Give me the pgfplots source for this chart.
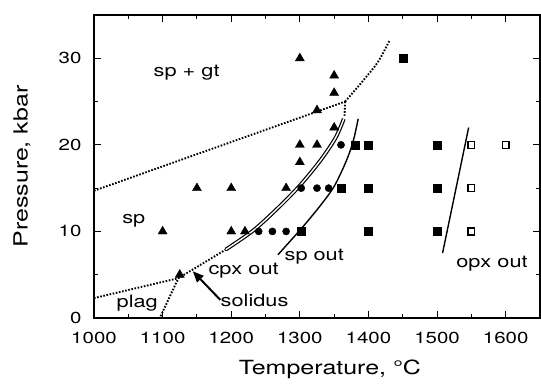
\documentclass[border=0pt]{standalone}
\usepackage{fontspec}
\setmainfont{TeX Gyre Heros}[FakeStretch=1.28]
\usepackage{pgfplots}
\pgfplotsset{compat=1.18}
\usetikzlibrary{arrows.meta}
\begin{document}
\begin{tikzpicture}
\begin{axis}[
  name=ax,
  scale only axis, width=446pt, height=303pt,
  xmin=1000, xmax=1650, ymin=0, ymax=35,
  xtick={1000,1100,...,1600}, ytick={0,10,20,30},
  minor x tick num=1, minor y tick num=1,
  tick align=inside, major tick length=7pt, minor tick length=4pt,
  axis line style={line width=1.6pt},
  tick style={line width=1.1pt, black},
  /pgf/number format/assume math mode=true,
  /pgf/number format/1000 sep={},
  every tick label/.append style={font=\fontsize{16}{19}\selectfont},
  xticklabel style={yshift=-11pt},
  yticklabel style={xshift=-9pt},
  label style={font=\fontsize{19.5}{23}\selectfont},
  xlabel={Temperature, °C}, ylabel={Pressure, kbar},
  xlabel style={at={(axis description cs:0.529,-0.188)}, anchor=base},
  ylabel style={at={(axis description cs:-0.1614,0.5)}, anchor=center},
  clip=false,
]
% dotted boundaries
\addplot[line width=1.9pt, dash pattern=on 1.6pt off 1.6pt] coordinates {(1000,14.7) (1366,25.0)};
\addplot[line width=1.9pt, dash pattern=on 1.6pt off 1.6pt, smooth] coordinates {(1366,25.0) (1392,27.4) (1414,29.6) (1431,32.1)};
\addplot[line width=1.9pt, dash pattern=on 1.6pt off 1.6pt] coordinates {(1366,25.0) (1365,23.2)};
\addplot[line width=1.9pt, dash pattern=on 1.6pt off 1.6pt] coordinates {(1000,2.3) (1123,4.6) (1192,7.9)};
\addplot[line width=1.9pt, dash pattern=on 1.6pt off 1.6pt] coordinates {(1097,0.2) (1123,4.6)};
% solidus (double line)
\addplot[double, double distance=1.4pt, line width=1.2pt, smooth] coordinates {(1192,7.9) (1232,10.1) (1268,12.7) (1300,15.3) (1330,18.2) (1352,20.8) (1364,23)};
% sp out
\addplot[line width=1.4pt, smooth] coordinates {(1268,7.3) (1304,10.5) (1330,13) (1350,15.2) (1368,18.2) (1378,20.5) (1385,23)};
% opx out
\addplot[line width=1.4pt] coordinates {(1508,7.5) (1546,22)};
% data points
\addplot[only marks, mark=triangle*, mark size=5.2pt, mark options={fill=black, draw=black}] coordinates {
 (1100,10) (1200,10) (1220,10) (1150,15) (1200,15) (1280,15) (1300,18) (1300,20) (1325,20)
 (1350,22) (1325,24) (1350,26) (1350,28) (1300,30) (1125,5)};
\addplot[only marks, mark=*, mark size=3.6pt, mark options={fill=black, draw=black}] coordinates {
 (1240,10) (1260,10) (1280,10) (1302,15) (1325,15) (1342,15) (1360,20)};
\addplot[only marks, mark=square*, mark size=4pt, mark options={fill=black, draw=black}] coordinates {
 (1302,10) (1400,10) (1500,10) (1360,15) (1400,15) (1500,15) (1380,20) (1400,20) (1500,20) (1450,30)};
\addplot[only marks, mark=square*, mark size=3.4pt, mark options={fill=white, draw=black, line width=1.4pt}] coordinates {
 (1550,10) (1550,15) (1550,20) (1600,20)};
% labels
\node[anchor=base, font=\fontsize{17}{20}\selectfont] at (axis cs:1135,27.9) {sp + gt};
\node[anchor=base, font=\fontsize{17}{20}\selectfont] at (axis cs:1058,10.95) {sp};
\node[anchor=base, font=\fontsize{17}{20}\selectfont] at (axis cs:1063,1.2) {plag};
\node[anchor=base, font=\fontsize{17}{20}\selectfont] at (axis cs:1218,5.0) {cpx out};
\node[anchor=base, font=\fontsize{17}{20}\selectfont] at (axis cs:1234,1.3) {solidus};
\node[anchor=base, font=\fontsize{17}{20}\selectfont] at (axis cs:1321,6.6) {sp out};
\node[anchor=base, font=\fontsize{17}{20}\selectfont] at (axis cs:1580,5.8) {opx out};
\draw[line width=2pt, -{Triangle[length=11pt,width=9pt]}] (axis cs:1184,2.1) -- (axis cs:1144,5.4);
\end{axis}
\path ([shift={(-94pt,-69pt)}]ax.south west) rectangle ([shift={(1pt,15pt)}]ax.north east);
\end{tikzpicture}
\end{document}
